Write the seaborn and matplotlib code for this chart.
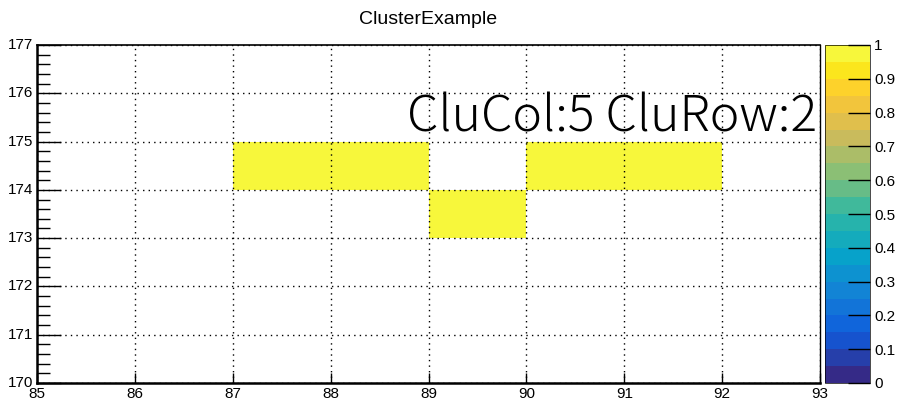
import numpy as np
import pandas as pd
import seaborn as sns
import matplotlib.pyplot as plt
from matplotlib.colors import ListedColormap, LinearSegmentedColormap

# histogram binning and filled cells
x_edges = list(range(85, 94))
y_edges = list(range(170, 178))
cell_x = [87, 88, 89, 90, 91]
cell_y = [174, 174, 173, 174, 174]
cell_val = [1, 1, 1, 1, 1]
label = "CluCol:5 CluRow:2"

# ROOT kBird palette, 20 contours
stops = np.linspace(0, 1, 9)
red = [0.2082, 0.0592, 0.0780, 0.0232, 0.1802, 0.5301, 0.8186, 0.9956, 0.9764]
green = [0.1664, 0.3599, 0.5041, 0.6419, 0.7178, 0.7492, 0.7328, 0.7862, 0.9832]
blue = [0.5293, 0.8684, 0.8385, 0.7914, 0.6425, 0.4662, 0.3499, 0.1968, 0.0539]
bird = LinearSegmentedColormap.from_list(
    "bird", list(zip(stops, zip(red, green, blue))))
colors = bird(np.linspace(0, 1, 20))
colors[-1] = [0.97, 0.97, 0.23, 1.0]
cmap = ListedColormap(colors)

rows = y_edges[:-1][::-1]
cols = x_edges[:-1]
df = pd.DataFrame(0.0, index=rows, columns=cols)
for x, y, v in zip(cell_x, cell_y, cell_val):
    df.loc[y, x] = v

plt.rcParams['font.family'] = ['Liberation Sans', 'DejaVu Sans']

fig = plt.figure(figsize=(8.97, 4.05), dpi=100)
ax = fig.add_axes([37/897, 22/405, 783/897, 338/405])
cax = fig.add_axes([825/897, 22/405, 45/897, 338/405])

sns.heatmap(df, mask=(df == 0), cmap=cmap, vmin=0, vmax=1, ax=ax,
            cbar_ax=cax, linewidths=0)

ax.set_xlim(0, len(cols))
ax.set_ylim(len(rows), 0)
ax.set_xticks(np.arange(len(x_edges)))
ax.set_xticklabels([str(v) for v in x_edges], rotation=0, fontsize=11)
ax.set_yticks(np.arange(len(y_edges)))
ax.set_yticklabels([str(v) for v in y_edges[::-1]], rotation=0, fontsize=11)
ax.set_yticks(np.arange(0, len(rows) + 0.01, 0.2), minor=True)
ax.set_xlabel("")
ax.set_ylabel("")
ax.tick_params(axis='y', which='major', direction='in', length=17, width=1,
               left=True, pad=3)
ax.tick_params(axis='y', which='minor', direction='in', length=9, width=1,
               left=True)
ax.tick_params(axis='x', which='major', direction='in', length=7, width=1,
               bottom=True, pad=3)
ax.grid(True, which='major', linestyle=(0, (1, 3)), color='black',
        linewidth=1)
for side in ['left', 'bottom', 'top', 'right']:
    ax.spines[side].set_visible(True)
    ax.spines[side].set_color('black')
ax.spines['left'].set_linewidth(1.8)
ax.spines['bottom'].set_linewidth(1.8)
ax.spines['top'].set_linewidth(1.2)
ax.spines['right'].set_linewidth(1.0)

ax.set_title("ClusterExample", fontsize=14, pad=15)
ax.text(0.996, 0.745, label, transform=ax.transAxes, ha='right',
        va='baseline', fontsize=36, fontweight='light',
        family=['Noto Sans CJK JP', 'DejaVu Sans'])

cb = ax.collections[0].colorbar
cb.set_ticks(np.arange(0, 1.01, 0.1))
cb.set_ticklabels(['0', '0.1', '0.2', '0.3', '0.4', '0.5', '0.6', '0.7',
                   '0.8', '0.9', '1'])
cb.ax.tick_params(direction='in', length=16, width=1, right=True,
                  labelsize=11, pad=3)
cb.outline.set_linewidth(0.5)

fig.savefig("out.png", dpi=100)
